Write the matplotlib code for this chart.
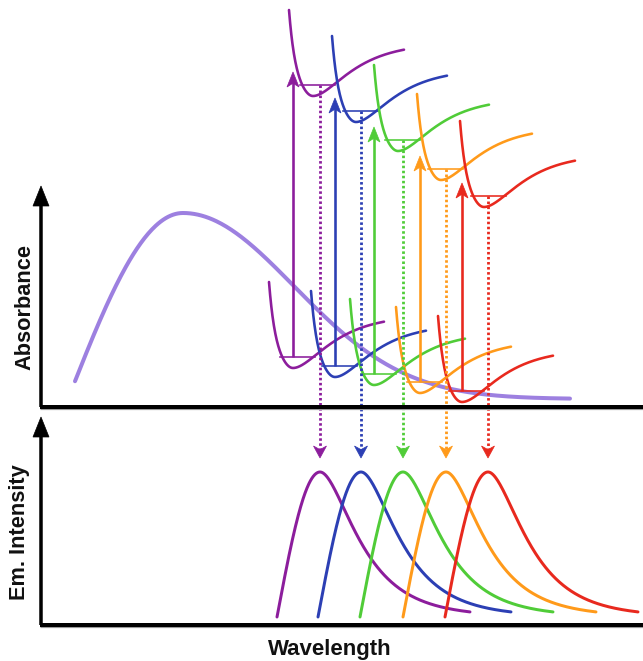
import numpy as np
import matplotlib
matplotlib.use("Agg")
import matplotlib.pyplot as plt
from matplotlib.patches import Polygon

# ---------------- data (schematic, in pixel-like units) ----------------
series_names = ["violet", "blue", "green", "orange", "red"]
colors = ["#8c1d9c", "#2c3fb4", "#50cc38", "#ff9a1a", "#e8291e"]

# emission maxima (wavelength position, height)
emission_peak_x = [320, 361, 403, 446, 488]
emission_peak_y = [472, 472, 472, 472, 472]

# ground-state potential wells (minimum positions)
ground_min_x = [293, 335, 374, 420, 462]
ground_min_y = [368, 377, 385, 393, 402]

# excited-state potential wells (minimum positions)
excited_min_x = [313, 356, 398, 441, 484]
excited_min_y = [96, 122, 151, 180, 207]

# broad absorbance band
abs_start_x, abs_end_x = 75, 570
abs_peak_x, abs_peak_y = 183, 213
abs_base_y = 399

axis_labels = {"top_y": "Absorbance", "bottom_y": "Em. Intensity", "x": "Wavelength"}

# ---------------- figure ----------------
W, H = 643, 661
fig = plt.figure(figsize=(W / 100, H / 100), dpi=100)
ax = fig.add_axes([0, 0, 1, 1])
ax.set_xlim(0, W)
ax.set_ylim(H, 0)
ax.axis("off")

PX = 0.72  # points per pixel


def head(x, y, direction, length, width, color, notch=0.0, z=5):
    s = -1 if direction == "up" else 1
    verts = [(x, y),
             (x + width / 2, y - s * length),
             (x, y - s * length * (1 - notch)),
             (x - width / 2, y - s * length)]
    ax.add_patch(Polygon(verts, closed=True, facecolor=color, edgecolor=color,
                         lw=0.5, zorder=z))


# ---- axes frames ----
axis_x = 41
top_base, bot_base = 407, 625
for base, tip in [(top_base, 186), (bot_base, 417)]:
    ax.plot([axis_x - 1.5, W], [base + 1.8, base + 1.8], color="#9a9a9a",
            lw=1.2 * PX, solid_capstyle="butt", zorder=5)
    ax.plot([axis_x, axis_x], [base, tip + 15], color="black", lw=3.5 * PX,
            solid_capstyle="butt", zorder=6)
    ax.plot([axis_x - 1.5, W], [base, base], color="black", lw=4 * PX,
            solid_capstyle="butt", zorder=6)
    head(axis_x, tip, "up", 20, 16, "black", z=6)

ax.text(25, 307, axis_labels["top_y"], rotation=90, ha="center", va="center",
        fontsize=15.7, fontweight="bold", family="Liberation Sans", color="#111111")
ax.text(20, 532, axis_labels["bottom_y"], rotation=90, ha="center", va="center",
        fontsize=15.7, fontweight="bold", family="Liberation Sans", color="#111111")
ax.text(330, 649, axis_labels["x"], ha="center", va="center",
        fontsize=16, fontweight="bold", family="Liberation Sans", color="#111111")

# ---- absorbance band ----
xa = np.linspace(abs_start_x, abs_end_x, 400)
amp = abs_base_y - abs_peak_y
left = np.cos(np.pi / 2 * np.clip((xa - abs_peak_x) / 115.0, -1, 0))
right = np.exp(-((xa - abs_peak_x) ** 2) / (2 * 111.0 ** 2))
prof = np.where(xa < abs_peak_x, left, right)
ax.plot(xa, abs_base_y - amp * prof, color="#9d80e0", lw=4 * PX,
        solid_capstyle="round", zorder=1)


# ---- potential well shape ----
def well_height(dx):
    k, m = 0.0937, 1.676e-7
    D, a = 53.0, 0.030
    lw_ = k * dx ** 2 + m * dx ** 6
    rw = D * (1 - np.exp(-a * dx)) ** 2
    return np.where(dx < 0, lw_, rw)


dxs = np.linspace(-24, 91, 400)
hs = well_height(dxs)
LEVEL = 11.0
li = np.where(dxs < 0)[0]
lev_left = np.interp(LEVEL, hs[li][::-1], dxs[li][::-1])
ri = np.where(dxs >= 0)[0]
lev_right = np.interp(LEVEL, hs[ri], dxs[ri])


def draw_well(mx, my, color):
    ax.plot(mx + dxs, my - hs, color=color, lw=2.6 * PX, zorder=3,
            solid_capstyle="round")
    ax.plot([mx + lev_left - 2, mx + lev_right + 2], [my - LEVEL, my - LEVEL],
            color=color, lw=1.6 * PX, zorder=3)


for i, col in enumerate(colors):
    draw_well(ground_min_x[i], ground_min_y[i], col)
    draw_well(excited_min_x[i], excited_min_y[i], col)

    # absorption arrow (solid, upward)
    gx = ground_min_x[i]
    y0 = ground_min_y[i] - LEVEL
    ytip = excited_min_y[i] - LEVEL - 13
    ax.plot([gx, gx], [y0, ytip + 10], color=col, lw=2.6 * PX, zorder=4,
            solid_capstyle="butt")
    head(gx, ytip, "up", 15, 12, col, notch=0.25, z=4)

    # emission arrow (dotted, downward)
    ex = emission_peak_x[i]
    ys = excited_min_y[i] - LEVEL
    ytip_e = 458
    ax.plot([ex, ex], [ys, ytip_e - 8], color=col, lw=2.8 * PX,
            linestyle=(0, (0.9, 0.9)), dash_capstyle="butt", zorder=4)
    head(ex, ytip_e, "down", 12, 13, col, notch=0.3, z=4)

# ---- emission spectra ----
em_base = 617
for i, col in enumerate(colors):
    px, py = emission_peak_x[i], emission_peak_y[i]
    tp = 43.0
    t = np.linspace(0.0, 193, 400)
    rise = np.sin(np.pi / 2 * np.clip(t / tp, 0, 1))
    r = np.log(np.maximum(t, 1e-6) / tp)
    fall = np.exp(-(r ** 2) / (2 * 0.58 ** 2))
    f = np.where(t < tp, rise, fall)
    ax.plot(px - tp + t, em_base - (em_base - py) * f, color=col, lw=3 * PX,
            zorder=3, solid_capstyle="round")

fig.savefig("out.png", dpi=100)
